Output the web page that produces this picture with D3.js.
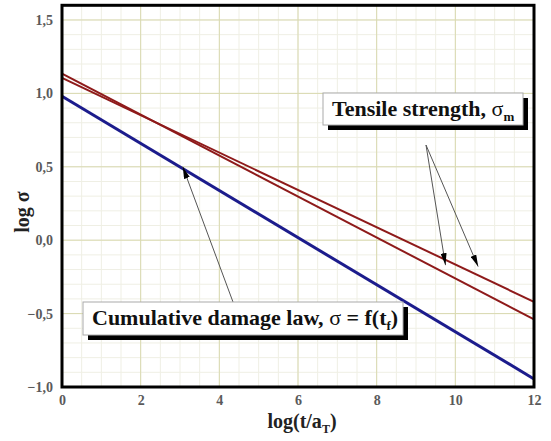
<!DOCTYPE html>
<html><head><meta charset="utf-8">
<script src="https://cdn.jsdelivr.net/npm/d3@7"></script>
<style>body{margin:0;background:#fff}svg{display:block}
.serif{font-family:"Liberation Serif","Times New Roman","DejaVu Serif",serif;}
</style>
</head><body>
<svg id="c" width="551" height="441"></svg>
<script>
// Data
const xEnds = [0, 12];
const tensileA = [1.135, -0.54];
const tensileB = [1.105, -0.42];
const damage = [0.98, -0.945];
const xTicks = [0, 2, 4, 6, 8, 10, 12];
const yTicks = [-1.0, -0.5, 0.0, 0.5, 1.0, 1.5];

const svg = d3.select("#c");
const x = d3.scaleLinear().domain([0, 12]).range([62, 534]);
const y = d3.scaleLinear().domain([-1, 1.6]).range([387, 5.3]);
const fmt = d => d3.format(".1f")(d).replace(".", ",");
const fmtX = d => String(d);

// minor grid
const xMinor = d3.range(0, 12.01, 0.5);
const yMinor = d3.range(-1, 1.601, 0.1);
const g = svg.append("g");
g.selectAll(".vm").data(xMinor).join("line")
  .attr("x1", d => x(d)).attr("x2", d => x(d)).attr("y1", y(-1)).attr("y2", y(1.6))
  .attr("stroke", "#efefe4").attr("stroke-width", 1);
g.selectAll(".hm").data(yMinor).join("line")
  .attr("y1", d => y(d)).attr("y2", d => y(d)).attr("x1", x(0)).attr("x2", x(12))
  .attr("stroke", "#efefe4").attr("stroke-width", 1);
// major grid
g.selectAll(".vM").data(xTicks).join("line")
  .attr("x1", d => x(d)).attr("x2", d => x(d)).attr("y1", y(-1)).attr("y2", y(1.6))
  .attr("stroke", "#d9d9b0").attr("stroke-width", 1);
g.selectAll(".hM").data(yTicks).join("line")
  .attr("y1", d => y(d)).attr("y2", d => y(d)).attr("x1", x(0)).attr("x2", x(12))
  .attr("stroke", "#d9d9b0").attr("stroke-width", 1);

// lines
const line = d3.line().x(d => x(d[0])).y(d => y(d[1]));
const mk = arr => xEnds.map((xv, i) => [xv, arr[i]]);
svg.append("path").attr("d", line(mk(tensileA))).attr("fill", "none").attr("stroke", "#8e1a1a").attr("stroke-width", 2);
svg.append("path").attr("d", line(mk(tensileB))).attr("fill", "none").attr("stroke", "#8e1a1a").attr("stroke-width", 2);
svg.append("path").attr("d", line(mk(damage))).attr("fill", "none").attr("stroke", "#1c1c8c").attr("stroke-width", 3);

// frame
svg.append("rect").attr("x", x(0)).attr("y", y(1.6)).attr("width", x(12) - x(0)).attr("height", y(-1) - y(1.6))
  .attr("fill", "none").attr("stroke", "#000").attr("stroke-width", 3);

// axes
const ax = svg.append("g").attr("transform", `translate(0,${y(-1)})`)
  .call(d3.axisBottom(x).tickValues(xTicks).tickFormat(fmtX).tickSize(0).tickPadding(8));
const ay = svg.append("g").attr("transform", `translate(${x(0)},0)`)
  .call(d3.axisLeft(y).tickValues(yTicks).tickFormat(fmt).tickSize(0).tickPadding(9));
[ax, ay].forEach(a => {
  a.attr("font-family", null);
  a.select(".domain").remove();
  a.selectAll("text").attr("class", "serif").attr("font-size", 14)
    .attr("font-weight", "bold").attr("fill", "#5a5a5a");
});

// axis titles
const xt = svg.append("text").attr("class", "serif").attr("x", 302).attr("y", 428).attr("text-anchor", "middle")
  .attr("font-weight", "bold").attr("font-size", 20).attr("fill", "#222");
xt.append("tspan").text("log(t/a");
xt.append("tspan").text("T").attr("font-size", 12).attr("dy", 5);
xt.append("tspan").text(")").attr("dy", -5);

svg.append("text").attr("class", "serif").attr("transform", "translate(29,212) rotate(-90)").attr("text-anchor", "middle")
  .attr("font-weight", "bold").attr("font-size", 20).attr("fill", "#222")
  .text("log σ");

// arrows
const defs = svg.append("defs");
defs.append("marker").attr("id", "ah").attr("viewBox", "0 0 12 6").attr("refX", 12).attr("refY", 3)
  .attr("markerWidth", 12).attr("markerHeight", 6).attr("markerUnits", "userSpaceOnUse").attr("orient", "auto")
  .append("path").attr("d", "M0,0 L12,3 L0,6 Z").attr("fill", "#000");
const arrows = [
  [[426, 145], [x(9.75), y(-0.17)]],
  [[426, 145], [x(10.58), y(-0.18)]],
  [[233, 302], [x(3.07), y(0.5)]]
];
svg.selectAll(".arr").data(arrows).join("line")
  .attr("x1", d => d[0][0]).attr("y1", d => d[0][1]).attr("x2", d => d[1][0]).attr("y2", d => d[1][1])
  .attr("stroke", "#555").attr("stroke-width", 1).attr("marker-end", "url(#ah)");

// label boxes
function box(x0, y0, w, h, parts, tx, ty) {
  svg.append("rect").attr("x", x0 + 5).attr("y", y0 + 5).attr("width", w).attr("height", h).attr("fill", "#000");
  svg.append("rect").attr("x", x0).attr("y", y0).attr("width", w).attr("height", h).attr("fill", "#fff")
    .attr("stroke", "#aaa").attr("stroke-width", 1);
  const t = svg.append("text").attr("class", "serif").attr("x", tx).attr("y", ty)
    .attr("font-weight", "bold").attr("font-size", 22).attr("fill", "#111");
  parts.forEach(p => {
    const s = t.append("tspan").text(p.t);
    if (p.sub) s.attr("font-size", 13).attr("dy", 5);
    if (p.up) s.attr("dy", -5);
    if (p.normal) s.attr("font-weight", "normal");
  });
}
box(323, 93, 200, 32, [{t: "Tensile strength,  "}, {t: "σ", normal: true}, {t: "m", sub: true}], 332, 116);
box(83, 302, 320, 33, [{t: "Cumulative damage law,  "}, {t: "σ", normal: true}, {t: " = f(t"}, {t: "f", sub: true}, {t: ")", up: true}], 92, 325);
</script>
</body></html>
